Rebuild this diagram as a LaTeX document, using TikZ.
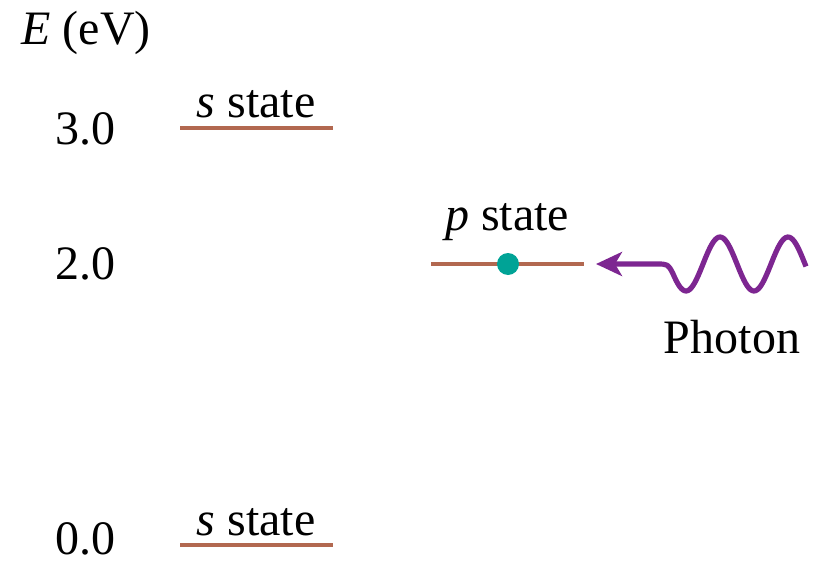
\documentclass[tikz,border=0pt]{standalone}
\usepackage{fontspec}
\setmainfont{LiberationSerif}[Extension=.ttf, UprightFont=*-Regular,
  ItalicFont=*-Italic, BoldFont=*-Bold, BoldItalicFont=*-BoldItalic]
\definecolor{levelbrown}{RGB}{178, 104, 80}
\definecolor{dotteal}{RGB}{0, 163, 150}
\definecolor{photonpurple}{RGB}{125, 38, 145}
\usetikzlibrary{arrows.meta, positioning}

\begin{document}
\begin{tikzpicture}[x=0.5pt, y=-0.5pt,
    lbl/.style={font=\rmfamily\fontsize{24}{28}\selectfont, inner sep=0pt},
    level/.style={line width=2.2pt, levelbrown},
    photon/.style={-{Stealth[length=13pt, width=12pt, inset=3.5pt]}, line width=2.6pt,
                   photonpurple, line join=round}
  ]
    \useasboundingbox (0,0) rectangle (815,562);
    % axis label and energies
    \node[lbl, anchor=base west] (axis) at (21,44) {\textit{E} (eV)};
    \node[lbl, anchor=west] (e3) at (55,129) {3.0};
    \node[lbl, anchor=west] (e2) at (55,264) {2.0};
    \node[lbl, anchor=west] (e0) at (55,539) {0.0};
    % levels
    \coordinate (s3a) at (180,128);
    \coordinate (s3b) at (333,128);
    \coordinate (p2a) at (431,264);
    \coordinate (p2b) at (584,264);
    \coordinate (s0a) at (180,545);
    \coordinate (s0b) at (333,545);
    \draw[level] (s3a) -- (s3b);
    \draw[level] (p2a) -- (p2b);
    \draw[level] (s0a) -- (s0b);
    \node[lbl, anchor=base] (s3lbl) at (256,117) {\textit{s} state};
    \node[lbl, anchor=base] (p2lbl) at (507,230) {\textit{p} state};
    \node[lbl, anchor=base] (s0lbl) at (256,535) {\textit{s} state};
    \node[circle, fill=dotteal, minimum size=11pt, inner sep=0pt] (elec) at (508,264) {};
    % photon
    \coordinate (tip) at (596,264);
    \coordinate (wend) at (806,264);
    \draw[photon] (wend) plot[domain=806:673, samples=80, smooth]
        (\x, {264+27*sin((\x-669)*5.2941)}) .. controls (668,264) .. (656,264) -- (tip);
    \node[lbl, anchor=base] (phlbl) at (732,353) {Photon};
  \end{tikzpicture}
\end{document}
